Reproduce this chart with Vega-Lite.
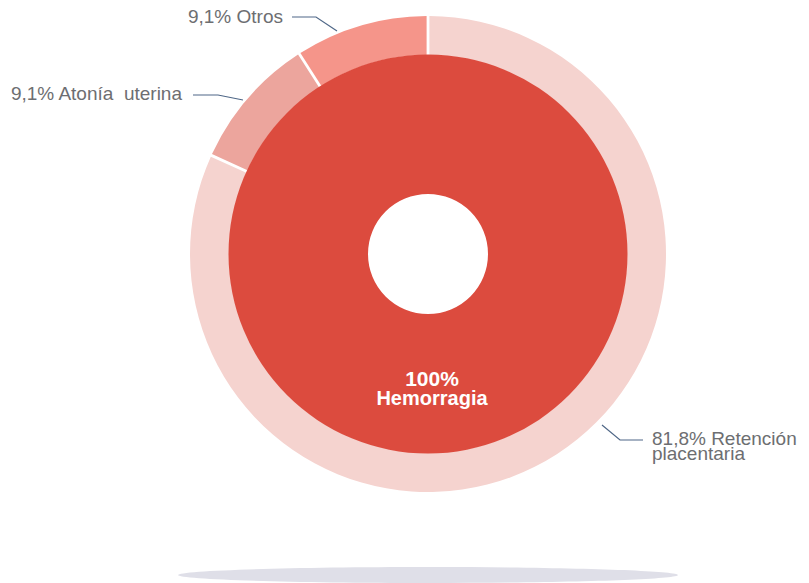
{
  "$schema": "https://vega.github.io/schema/vega-lite/v6.json",
  "width": 762,
  "height": 508,
  "autosize": {"type": "none"},
  "padding": {"left": 47, "top": 0, "right": 0, "bottom": 75},
  "background": "white",
  "config": {"view": {"stroke": null}, "font": "Liberation Sans"},
  "datasets": {
    "outer": [
      {"cat": "Retención placentaria", "v": 81.8, "k": 1},
      {"cat": "Atonía uterina", "v": 9.1, "k": 2},
      {"cat": "Otros", "v": 9.1, "k": 3}
    ],
    "inner": [{"cat": "Hemorragia", "v": 100}],
    "leaders": [
      {"g": "Otros", "i": 0, "x": -136, "y": 237},
      {"g": "Otros", "i": 1, "x": -112, "y": 237},
      {"g": "Otros", "i": 2, "x": -91, "y": 223},
      {"g": "Atonía", "i": 0, "x": -235, "y": 159},
      {"g": "Atonía", "i": 1, "x": -210, "y": 159},
      {"g": "Atonía", "i": 2, "x": -185, "y": 154},
      {"g": "Retención", "i": 0, "x": 174, "y": -171},
      {"g": "Retención", "i": 1, "x": 192, "y": -186},
      {"g": "Retención", "i": 2, "x": 215, "y": -186}
    ],
    "labelsLeft": [
      {"t": "9,1% Otros", "x": -145, "y": 231},
      {"t": "9,1% Atonía\u00a0 uterina", "x": -246, "y": 154}
    ],
    "labelsRight": [
      {"t": "81,8% Retención\nplacentaria", "x": 224, "y": -191}
    ],
    "center": [
      {"t": "100%", "x": 4, "y": -132, "s": "big"},
      {"t": "Hemorragia", "x": 4, "y": -151, "s": "small"}
    ],
    "shadow": [{"x": 0, "y": -321}]
  },
  "layer": [
    {
      "data": {"name": "shadow"},
      "mark": {"type": "point", "filled": true, "shape": "M-1,0A1,0.032 0 1,1 1,0A1,0.032 0 1,1 -1,0Z", "size": 250000, "color": "#DFDFE8", "opacity": 1, "strokeWidth": 0},
      "encoding": {
        "x": {"field": "x", "type": "quantitative", "scale": {"domain": [-381, 381], "nice": false, "zero": false}, "axis": null},
        "y": {"field": "y", "type": "quantitative", "scale": {"domain": [-254, 254], "nice": false, "zero": false}, "axis": null}
      }
    },
    {
      "data": {"name": "outer"},
      "mark": {"type": "arc", "radius": 238, "radius2": 199, "padAngle": 0.009},
      "encoding": {
        "theta": {"field": "v", "type": "quantitative", "stack": true},
        "order": {"field": "k", "type": "quantitative"},
        "color": {"field": "cat", "type": "nominal", "legend": null,
          "scale": {"domain": ["Retención placentaria", "Atonía uterina", "Otros", "Hemorragia"], "range": ["#F5D3CF", "#ECA59D", "#F5958A", "#DC4B3E"]}}
      }
    },
    {
      "data": {"name": "inner"},
      "mark": {"type": "arc", "radius": 199.5, "radius2": 60},
      "encoding": {
        "theta": {"field": "v", "type": "quantitative", "stack": true},
        "color": {"field": "cat", "type": "nominal", "legend": null}
      }
    },
    {
      "data": {"name": "leaders"},
      "mark": {"type": "line", "color": "#4F6787", "strokeWidth": 1.2},
      "encoding": {
        "x": {"field": "x", "type": "quantitative"},
        "y": {"field": "y", "type": "quantitative"},
        "detail": {"field": "g", "type": "nominal"},
        "order": {"field": "i", "type": "quantitative"}
      }
    },
    {
      "data": {"name": "labelsLeft"},
      "mark": {"type": "text", "align": "right", "baseline": "alphabetic", "fontSize": 19, "color": "#6D6E71"},
      "encoding": {
        "x": {"field": "x", "type": "quantitative"},
        "y": {"field": "y", "type": "quantitative"},
        "text": {"field": "t", "type": "nominal"}
      }
    },
    {
      "data": {"name": "labelsRight"},
      "mark": {"type": "text", "align": "left", "baseline": "alphabetic", "fontSize": 19, "color": "#6D6E71", "lineBreak": "\n", "lineHeight": 14.5},
      "encoding": {
        "x": {"field": "x", "type": "quantitative"},
        "y": {"field": "y", "type": "quantitative"},
        "text": {"field": "t", "type": "nominal"}
      }
    },
    {
      "data": {"name": "center"},
      "mark": {"type": "text", "align": "center", "baseline": "alphabetic", "fontWeight": "bold", "color": "white"},
      "encoding": {
        "x": {"field": "x", "type": "quantitative"},
        "y": {"field": "y", "type": "quantitative"},
        "text": {"field": "t", "type": "nominal"},
        "size": {"field": "s", "type": "nominal", "legend": null, "scale": {"domain": ["big", "small"], "range": [21, 20]}}
      }
    }
  ]
}
